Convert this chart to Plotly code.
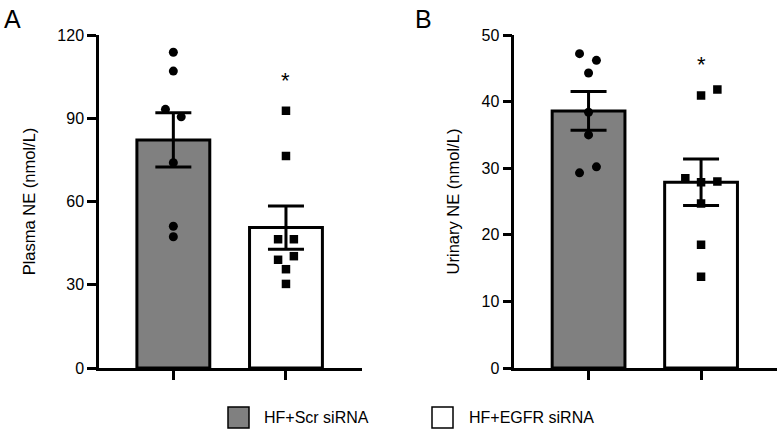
import plotly.graph_objects as go

# ---------------- data ----------------
groups = ["HF+Scr siRNA", "HF+EGFR siRNA"]
bar_colors = ["#808080", "#ffffff"]

plasma_means = [82.2, 50.6]
plasma_sem = [9.8, 7.8]
plasma_scr = [113.8, 107.0, 93.2, 90.5, 74.0, 51.1, 47.3]
plasma_scr_jit = [0.0, 0.0, -0.07, 0.07, 0.0, 0.0, 0.0]
plasma_egfr = [92.7, 76.4, 46.4, 46.4, 40.3, 39.0, 35.6, 30.3]
plasma_egfr_jit = [0.0, 0.0, -0.07, 0.07, 0.07, -0.07, 0.0, 0.0]
plasma_star = 104.9

urine_means = [38.6, 27.9]
urine_sem = [2.9, 3.5]
urine_scr = [47.2, 46.2, 44.3, 38.4, 35.0, 30.2, 29.3]
urine_scr_jit = [-0.08, 0.07, 0.0, 0.0, 0.0, 0.07, -0.08]
urine_egfr = [41.8, 40.9, 28.5, 27.9, 28.0, 24.7, 18.5, 13.7]
urine_egfr_jit = [0.145, 0.0, -0.14, 0.0, 0.145, 0.0, 0.0, 0.0]
urine_star = 46.1

y_titles = ["Plasma NE (nmol/L)", "Urinary NE (nmol/L)"]
y_ranges = [[0, 120], [0, 50]]
y_ticks = [[0, 30, 60, 90, 120], [0, 10, 20, 30, 40, 50]]
panel_letters = ["A", "B"]

# ---------------- figure ----------------
W, H = 780, 432
ML, MR, MT, MB = 99, 3, 35, 64
PW, PH = W - ML - MR, H - MT - MB
FONT = "Arial, Liberation Sans, sans-serif"

def px_x(p):
    return (p - ML) / PW

def px_y(p):
    return (H - MB - p) / PH

fig = go.Figure()

panels = [
    (plasma_means, plasma_sem, [plasma_scr, plasma_egfr], [plasma_scr_jit, plasma_egfr_jit], plasma_star, "x", "y"),
    (urine_means, urine_sem, [urine_scr, urine_egfr], [urine_scr_jit, urine_egfr_jit], urine_star, "x2", "y2"),
]

for means, sem, pts, jits, star, xa, ya in panels:
    fig.add_trace(go.Bar(
        x=[0, 1], y=means, width=0.647,
        marker=dict(color=bar_colors, line=dict(color="black", width=3)),
        error_y=dict(type="data", array=sem, visible=True, color="black", thickness=3, width=18),
        xaxis=xa, yaxis=ya, showlegend=False, hoverinfo="skip",
    ))
    symbols = ["circle", "square"]
    sizes = [9, 8.5]
    for gi in range(2):
        fig.add_trace(go.Scatter(
            x=[gi + j for j in jits[gi]], y=pts[gi], mode="markers",
            marker=dict(symbol=symbols[gi], size=sizes[gi], color="black", line=dict(width=0)),
            xaxis=xa, yaxis=ya, showlegend=False, hoverinfo="skip",
        ))
    fig.add_annotation(x=1, y=star, xref=xa, yref=ya, text="*", showarrow=False, yshift=-4,
                       font=dict(family=FONT, size=22, color="black"), yanchor="middle")

axis_common = dict(showgrid=False, zeroline=False, showline=True, linecolor="black", linewidth=2.5,
                   ticks="outside", tickcolor="black", tickwidth=2.5, ticklen=9,
                   tickfont=dict(family=FONT, size=16, color="black"))

x_domains = [[0, px_x(362)], [px_x(514.3), 1]]
for i in range(2):
    sfx = "" if i == 0 else str(i + 1)
    fig.update_layout(**{
        "xaxis" + sfx: dict(axis_common, domain=x_domains[i], range=[-0.66, 1.675],
                            tickvals=[0, 1], ticktext=["", ""], anchor="y" + sfx),
        "yaxis" + sfx: dict(axis_common, range=y_ranges[i], tickvals=y_ticks[i], anchor="x" + sfx,
                            title=dict(text=y_titles[i], font=dict(family=FONT, size=16.5, color="black"),
                                       standoff=18)),
    })

# panel letters
for letter, lx in zip(panel_letters, [2, 413]):
    fig.add_annotation(x=px_x(lx), y=px_y(3), xref="paper", yref="paper", text=letter, showarrow=False,
                       xanchor="left", yanchor="top", font=dict(family=FONT, size=25, color="black"))

# legend
for name, col, bx, tx in zip(groups, bar_colors, [228, 432], [262, 467]):
    fig.add_shape(type="rect", xref="paper", yref="paper",
                  x0=px_x(bx), x1=px_x(bx + 21), y0=px_y(407), y1=px_y(428),
                  fillcolor=col, line=dict(color="black", width=1.5))
    fig.add_annotation(x=px_x(tx), y=px_y(417.5), xref="paper", yref="paper", text=name, showarrow=False,
                       xanchor="left", yanchor="middle", font=dict(family=FONT, size=16, color="black"))

fig.update_layout(width=W, height=H, margin=dict(l=ML, r=MR, t=MT, b=MB),
                  plot_bgcolor="white", paper_bgcolor="white", bargap=0.3)

fig.write_html("out.html", config={"displayModeBar": False},
               post_script="document.body.style.margin='0px';document.body.style.overflow='hidden';")
